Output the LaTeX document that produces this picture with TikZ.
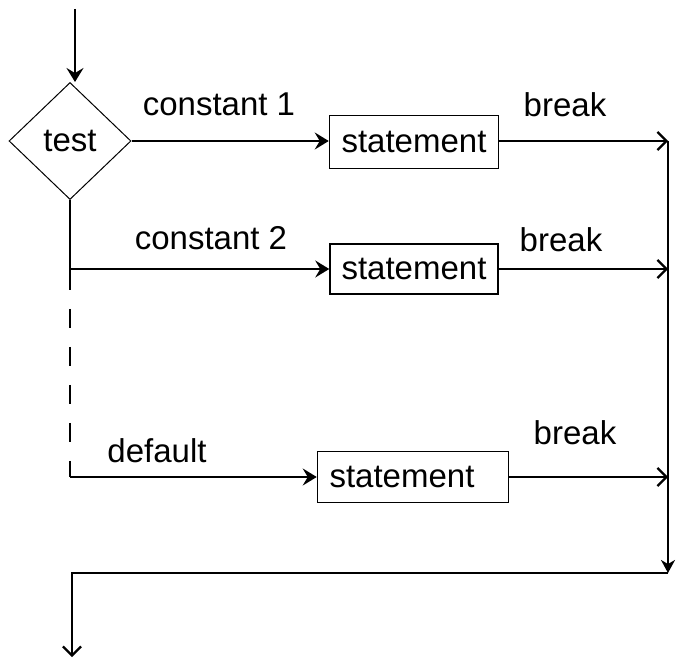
\documentclass[tikz,border=0pt]{standalone}
\usepackage{fontspec}
\setmainfont{Liberation Sans}
\usetikzlibrary{shapes.geometric,arrows.meta,calc}
\begin{document}
\begin{tikzpicture}[x=1pt,y=1pt,
  line width=1.8pt,
  every node/.style={font=\fontsize{33}{40}\selectfont},
  decision/.style={draw,diamond,line width=1pt,minimum width=122pt,minimum height=117pt,inner sep=0pt},
  stmtbox/.style={draw,rectangle,line width=1.5pt,inner sep=0pt,minimum height=53pt},
  lbl/.style={inner sep=0pt},
  intip/.style={-{Stealth[length=14pt,width=17pt,inset=5pt]}},
  railtip/.style={-{Straight Barb[length=9pt,width=18pt,line width=2.2pt]}},
  downtip/.style={-{Stealth[length=13pt,width=14pt,inset=4pt]}},
  gapdash/.style={dash pattern=on 19pt off 19pt,dash phase=19pt}
]
\useasboundingbox (0,0) rectangle (678,-660);
% nodes
\node[decision] (test) at (70,-141) {test};
\node[stmtbox,minimum width=169pt] (s1) at (414,-142) {statement};
\node[stmtbox,minimum width=168pt,minimum height=50pt] (s2) at (414,-269) {statement};
\node[stmtbox,minimum width=191pt,minimum height=51pt] (s3) at (413,-477) {statement\hspace*{22pt}};
% labels
\node[lbl] (l1) at (219,-104) {constant 1};
\node[lbl] (l2) at (211,-238) {constant 2};
\node[lbl] (l3) at (157,-451) {default};
\node[lbl] (b1) at (565,-105) {break};
\node[lbl] (b2) at (561,-240) {break};
\node[lbl] (b3) at (575,-433) {break};
% coordinates
\coordinate (start) at ($(test.north)+(5,73)$);
\coordinate (c2) at (test.south |- s2.west);
\coordinate (d1) at ($(test.south)+(0,-90)$);
\coordinate (c3) at (test.south |- s3.west);
\coordinate (r1) at (668,-141);
\coordinate (r2) at (668,-269);
\coordinate (r3) at (668,-477);
\coordinate (r4) at (668,-573);
\coordinate (q1) at ($(test.south |- r4)+(2,0)$);
\coordinate (q2) at ($(q1)+(0,-84)$);
% connectors
\draw[intip] (start) -- (start |- test.north);
\draw[intip] (test.east) -- (test.east -| s1.west);
\draw (test.south) -- (c2) -- (d1);
\draw[gapdash] (d1) -- (c3);
\draw[intip] (c2) -- (s2.west);
\draw[intip] (c3) -- (s3.west);
\draw[railtip] (s1.east |- r1) -- (r1);
\draw[railtip] (s2.east) -- (r2);
\draw[railtip] (s3.east) -- (r3);
\draw[downtip] (r1) -- (r4);
\draw[railtip] (r4) -- (q1) -- (q2);
\end{tikzpicture}
\end{document}
